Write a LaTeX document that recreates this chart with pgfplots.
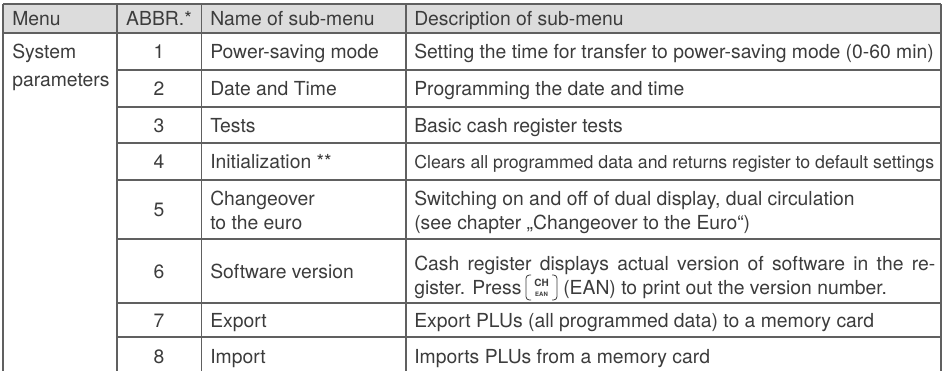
\documentclass[border=0pt]{standalone}
\usepackage{fontspec}
\setmainfont{TeX Gyre Heros}
\usepackage{pgfplots}
\pgfplotsset{compat=1.18}
\definecolor{hdr}{HTML}{DCDCDC}
\definecolor{rulec}{HTML}{606060}
\definecolor{txt}{HTML}{3C3C3C}
\tikzset{
  T/.style={anchor=base west, inner sep=0pt, font=\fontsize{14.5}{17}\selectfont, text=txt},
  C/.style={anchor=base, inner sep=0pt, font=\fontsize{14.5}{17}\selectfont, text=txt},
  S/.style={anchor=base west, inner sep=0pt, font=\fontsize{13.3}{16}\selectfont, text=txt},
}
\begin{document}
\begin{tikzpicture}
\begin{axis}[scale only axis, width=708.75pt, height=278.25pt,
  xmin=0, xmax=945, ymin=0, ymax=371, y dir=reverse,
  hide axis, clip=false, no markers]
% background and header
\addplot[draw=none, fill=white] coordinates {(0,0) (945,0) (945,371) (0,371)};
\addplot[draw=none, fill=hdr] coordinates {(3,4) (941,4) (941,33) (3,33)};
% vertical rules
\addplot[rulec, line width=0.9pt] coordinates {(3,4) (3,371)};
\addplot[rulec, line width=0.9pt] coordinates {(117,4) (117,371)};
\addplot[rulec, line width=0.9pt] coordinates {(201.5,4) (201.5,371)};
\addplot[rulec, line width=0.9pt] coordinates {(406,4) (406,371)};
\addplot[rulec, line width=0.9pt] coordinates {(941,4) (941,371)};
% horizontal rules
\addplot[rulec, line width=0.9pt] coordinates {(3,4) (941,4)};
\addplot[rulec, line width=0.9pt] coordinates {(3,33) (941,33)};
\addplot[rulec, line width=0.9pt] coordinates {(117,70) (941,70)};
\addplot[rulec, line width=0.9pt] coordinates {(117,107) (941,107)};
\addplot[rulec, line width=0.9pt] coordinates {(117,143) (941,143)};
\addplot[rulec, line width=0.9pt] coordinates {(117,180) (941,180)};
\addplot[rulec, line width=0.9pt] coordinates {(117,239) (941,239)};
\addplot[rulec, line width=0.9pt] coordinates {(117,303) (941,303)};
\addplot[rulec, line width=0.9pt] coordinates {(117,337) (941,337)};
% CH/EAN key
\addplot[txt, line width=0.6pt, rounded corners=2.5pt] coordinates {(531,275) (526,275) (526,300) (531,300)};
\addplot[txt, line width=0.6pt, rounded corners=2.5pt] coordinates {(552,275) (557,275) (557,300) (552,300)};
% header
\node[T] at (axis cs:12,25.5) {Menu};
\node[C] at (axis cs:159,25.5) {ABBR.*};
\node[T] at (axis cs:210,25.5) {Name of sub-menu};
\node[T] at (axis cs:414,25.5) {Description of sub-menu};
% menu column
\node[T] at (axis cs:12,58.5) {System};
\node[T] at (axis cs:12,86) {parameters};
% row 1
\node[C] at (axis cs:159,58.5) {1};
\node[T] at (axis cs:210,58.5) {Power-saving mode};
\node[T] at (axis cs:414,58.5) {Setting the time for transfer to power-saving mode (0-60 min)};
% row 2
\node[C] at (axis cs:159,95.5) {2};
\node[T] at (axis cs:210,95.5) {Date and Time};
\node[T] at (axis cs:414,95.5) {Programming the date and time};
% row 3
\node[C] at (axis cs:159,132) {3};
\node[T] at (axis cs:210,132) {Tests};
\node[T] at (axis cs:414,132) {Basic cash register tests};
% row 4
\node[C] at (axis cs:159,168.5) {4};
\node[T] at (axis cs:210,168.5) {Initialization **};
\node[S] at (axis cs:414,168) {Clears all programmed data and returns register to default settings};
% row 5
\node[C] at (axis cs:159,216.5) {5};
\node[T] at (axis cs:210,205) {Changeover};
\node[T] at (axis cs:210,229) {to the euro};
\node[T] at (axis cs:414,205) {Switching on and off of dual display, dual circulation};
\node[T] at (axis cs:414,229) {(see chapter „Changeover to the Euro“)};
% row 6
\node[C] at (axis cs:159,278) {6};
\node[T] at (axis cs:210,278) {Software version};
\node[T] at (axis cs:414,270) {\hbox to 390.75pt{Cash register displays actual version of software in the re-}};
\node[T] at (axis cs:414,294) {gister. Press};
\node[anchor=base, inner sep=0pt, font=\fontsize{7.5}{8}\selectfont\bfseries, text=txt] at (axis cs:541.5,286) {CH};
\node[anchor=base, inner sep=0pt, font=\fontsize{4.5}{5}\selectfont\bfseries, text=txt] at (axis cs:541.5,296) {EAN};
\node[T] at (axis cs:563,294) {(EAN) to print out the version number.};
% row 7
\node[C] at (axis cs:159,327) {7};
\node[T] at (axis cs:210,327) {Export};
\node[T] at (axis cs:414,327) {Export PLUs (all programmed data) to a memory card};
% row 8
\node[C] at (axis cs:159,363) {8};
\node[T] at (axis cs:210,363) {Import};
\node[T] at (axis cs:414,363) {Imports PLUs from a memory card};
\end{axis}
\end{tikzpicture}
\end{document}
